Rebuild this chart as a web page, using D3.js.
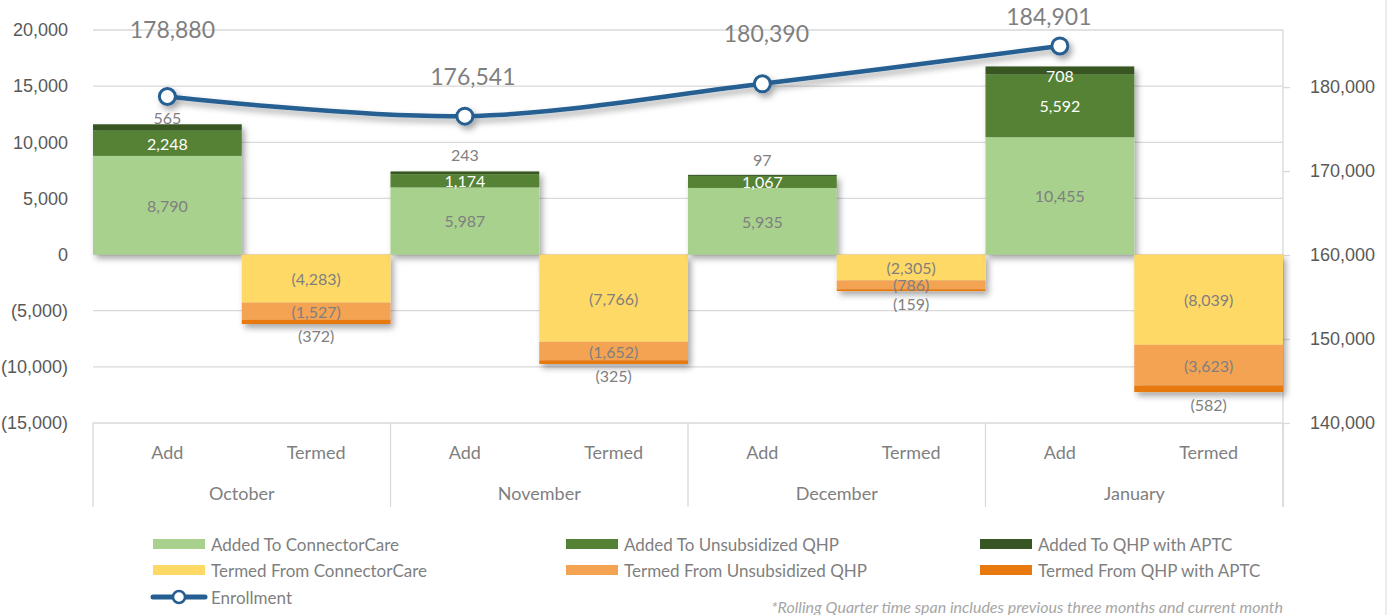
<!DOCTYPE html>
<html>
<head>
<meta charset="utf-8">
<script src="https://cdn.jsdelivr.net/npm/d3@7"></script>
<style>
	body { margin: 0; background: #ffffff; }
	svg { display: block; font-family: Lato, "Open Sans", sans-serif; }
</style>
</head>
<body>
<svg id="chart" width="1388" height="615"></svg>
<script>
/* CHART DATA */
var month_Names = ["October", "November", "December", "January"];
var sub_Names = ["Add", "Termed"];

var added_ConnectorCare = [8790, 5987, 5935, 10455];
var added_Unsubsidized = [2248, 1174, 1067, 5592];
var added_APTC = [565, 243, 97, 708];

var termed_ConnectorCare = [-4283, -7766, -2305, -8039];
var termed_Unsubsidized = [-1527, -1652, -786, -3623];
var termed_APTC = [-372, -325, -159, -582];

var enrollment = [178880, 176541, 180390, 184901];

var left_Ticks = [-15000, -10000, -5000, 0, 5000, 10000, 15000, 20000];
var right_Ticks = [140000, 150000, 160000, 170000, 180000];

/* LAYOUT AND STYLE */
var plot = { left: 93, right: 1283, top: 30, bottom: 423, axis_Bottom: 507 };

var series_Info = [
	{ key: "addedCC",  name: "Added To ConnectorCare",    colour: "#A9D18E", label: "#7F7F7F" },
	{ key: "addedUn",  name: "Added To Unsubsidized QHP", colour: "#548235", label: "#FFFFFF" },
	{ key: "addedAP",  name: "Added To QHP with APTC",    colour: "#375623", label: "#FFFFFF" },
	{ key: "termCC",   name: "Termed From ConnectorCare", colour: "#FFD966", label: "#7F7F7F" },
	{ key: "termUn",   name: "Termed From Unsubsidized QHP", colour: "#F4A352", label: "#7F7F7F" },
	{ key: "termAP",   name: "Termed From QHP with APTC", colour: "#E8790F", label: "#7F7F7F" }
];
var line_Colour = "#255E91";

/* small aptc labels: Excel moved some of them above the bar */
var aptc_Label_Place = ["above", "above", "above", "center"];
var aptc_Label_Nudge = [-10, -18, -16, 5];
/* nudges for the enrollment labels, as placed in the original */
var enroll_Label_Nudge = [[5, -68], [8, -40], [4, -51], [-11, -30]];

/* build one row per sub category */
var rows = [];
month_Names.forEach(function(month, i){
	rows.push({ id: month + "|Add", month: i, sub: "Add",
		addedCC: added_ConnectorCare[i], addedUn: added_Unsubsidized[i], addedAP: added_APTC[i],
		termCC: 0, termUn: 0, termAP: 0 });
	rows.push({ id: month + "|Termed", month: i, sub: "Termed",
		addedCC: 0, addedUn: 0, addedAP: 0,
		termCC: termed_ConnectorCare[i], termUn: termed_Unsubsidized[i], termAP: termed_APTC[i] });
});

var svg = d3.select("#chart");

var defs = svg.append("defs");
var shadow = defs.append("filter").attr("id", "shadow")
	.attr("x", "-10%").attr("y", "-10%").attr("width", "130%").attr("height", "140%");
shadow.append("feDropShadow")
	.attr("dx", 3).attr("dy", 4).attr("stdDeviation", 3)
	.attr("flood-color", "#000").attr("flood-opacity", 0.35);

var x = d3.scaleBand().domain(rows.map(function(d){ return d.id; }))
	.range([plot.left, plot.right]).padding(0);

var month_X = d3.scaleBand().domain(month_Names).range([plot.left, plot.right]).padding(0);

var y = d3.scaleLinear().domain([-15000, 20000]).range([plot.bottom, plot.top]);
var y_Right = d3.scaleLinear().domain([140000, 186800]).range([plot.bottom, plot.top]);

var fmt = d3.format(",");
function label_Text(v){ return v < 0 ? "(" + fmt(-v) + ")" : fmt(v); }

/* gridlines */
svg.append("g").selectAll("line").data(left_Ticks).join("line")
	.attr("x1", plot.left).attr("x2", plot.right)
	.attr("y1", function(d){ return y(d); }).attr("y2", function(d){ return y(d); })
	.attr("stroke", "#D9D9D9").attr("stroke-width", 1.3);

/* left axis */
var left_Axis = svg.append("g").attr("transform", "translate(" + plot.left + ",0)")
	.call(d3.axisLeft(y).tickValues(left_Ticks).tickSize(0).tickPadding(25).tickFormat(label_Text));
left_Axis.select(".domain").remove();
left_Axis.selectAll("text").attr("fill", "#595959").style("font-size", "18px");

/* right axis */
var right_Axis = svg.append("g").attr("transform", "translate(" + plot.right + ",0)")
	.call(d3.axisRight(y_Right).tickValues(right_Ticks).tickSize(7).tickPadding(20).tickFormat(fmt));
right_Axis.select(".domain").remove();
right_Axis.selectAll("line").attr("stroke", "#D9D9D9").attr("stroke-width", 1.3);
right_Axis.selectAll("text").attr("fill", "#595959").style("font-size", "18px");

svg.append("line")
	.attr("x1", plot.right).attr("x2", plot.right)
	.attr("y1", plot.top).attr("y2", plot.axis_Bottom)
	.attr("stroke", "#D9D9D9").attr("stroke-width", 1.3);

/* multi level category axis */
var cat_Axis = svg.append("g");
cat_Axis.selectAll("line.div").data(month_Names.concat(["end"])).join("line")
	.attr("class", "div")
	.attr("x1", function(d, i){ return plot.left + i * month_X.bandwidth(); })
	.attr("x2", function(d, i){ return plot.left + i * month_X.bandwidth(); })
	.attr("y1", plot.bottom).attr("y2", plot.axis_Bottom)
	.attr("stroke", "#D9D9D9").attr("stroke-width", 1.3);

cat_Axis.selectAll("text.sub").data(rows).join("text")
	.attr("class", "sub")
	.attr("x", function(d){ return x(d.id) + x.bandwidth() / 2; })
	.attr("y", 452).attr("dominant-baseline", "central")
	.attr("text-anchor", "middle").attr("fill", "#7F7F7F").style("font-size", "18px")
	.text(function(d){ return d.sub; });

cat_Axis.selectAll("text.month").data(month_Names).join("text")
	.attr("class", "month")
	.attr("x", function(d){ return month_X(d) + month_X.bandwidth() / 2; })
	.attr("y", 493).attr("dominant-baseline", "central")
	.attr("text-anchor", "middle").attr("fill", "#7F7F7F").style("font-size", "18px")
	.text(function(d){ return d; });

/* stacked bars */
var stack = d3.stack().keys(series_Info.map(function(s){ return s.key; }))
	.offset(d3.stackOffsetDiverging);
var stacked = stack(rows);

var bar_Groups = svg.append("g").selectAll("g").data(rows).join("g")
	.attr("filter", "url(#shadow)");

bar_Groups.each(function(row, r){
	var group = d3.select(this);
	stacked.forEach(function(layer, k){
		var seg = layer[r];
		if(seg[1] - seg[0] === 0) return;
		group.append("rect")
			.attr("x", x(row.id))
			.attr("width", x.bandwidth())
			.attr("y", y(Math.max(seg[0], seg[1])))
			.attr("height", Math.abs(y(seg[0]) - y(seg[1])))
			.attr("fill", series_Info[k].colour);
	});
});

/* bar labels */
var labels = svg.append("g").style("font-size", "16px").attr("text-anchor", "middle");
stacked.forEach(function(layer, k){
	layer.forEach(function(seg, r){
		var value = seg.data[series_Info[k].key];
		if(value === 0) return;
		var cx = x(seg.data.id) + x.bandwidth() / 2;
		var cy = (y(seg[0]) + y(seg[1])) / 2;
		var colour = series_Info[k].label;
		if(series_Info[k].key === "addedAP"){
			cy += aptc_Label_Nudge[seg.data.month];
			if(aptc_Label_Place[seg.data.month] === "above") colour = "#7F7F7F";
		}
		if(series_Info[k].key === "termAP"){
			cy = y(seg[0]) + 12;
		}
		labels.append("text")
			.attr("x", cx).attr("y", cy)
			.attr("dominant-baseline", "central")
			.attr("fill", colour)
			.text(label_Text(value));
	});
});

/* enrollment line */
var add_Rows = rows.filter(function(d){ return d.sub === "Add"; });
var points = add_Rows.map(function(d, i){
	return [x(d.id) + x.bandwidth() / 2, y_Right(enrollment[i])];
});

var line_Group = svg.append("g").attr("filter", "url(#shadow)");
line_Group.append("path")
	.attr("d", d3.line().curve(d3.curveCatmullRom.alpha(0.5))(points))
	.attr("fill", "none").attr("stroke", line_Colour)
	.attr("stroke-width", 4.5).attr("stroke-linecap", "round");
line_Group.selectAll("circle").data(points).join("circle")
	.attr("cx", function(d){ return d[0]; }).attr("cy", function(d){ return d[1]; })
	.attr("r", 8).attr("fill", "#FFFFFF")
	.attr("stroke", line_Colour).attr("stroke-width", 3);

svg.append("g").selectAll("text").data(enrollment).join("text")
	.attr("x", function(d, i){ return points[i][0] + enroll_Label_Nudge[i][0]; })
	.attr("y", function(d, i){ return points[i][1] + enroll_Label_Nudge[i][1]; })
	.attr("dominant-baseline", "central").attr("text-anchor", "middle")
	.attr("fill", "#7F7F7F").style("font-size", "23px")
	.text(function(d){ return fmt(d); });

/* legend */
var legend_Cols = [153, 566, 980];
var legend_Rows = [544, 570, 597];
var legend = svg.append("g").style("font-size", "17px");
series_Info.forEach(function(s, i){
	var lx = legend_Cols[i % 3], ly = legend_Rows[Math.floor(i / 3)];
	legend.append("rect").attr("x", lx).attr("y", ly - 5)
		.attr("width", 52).attr("height", 10).attr("fill", s.colour);
	legend.append("text").attr("x", lx + 58).attr("y", ly)
		.attr("dominant-baseline", "central").attr("fill", "#7F7F7F").text(s.name);
});
legend.append("line").attr("x1", 153).attr("x2", 205)
	.attr("y1", legend_Rows[2]).attr("y2", legend_Rows[2])
	.attr("stroke", line_Colour).attr("stroke-width", 5).attr("stroke-linecap", "round");
legend.append("circle").attr("cx", 179).attr("cy", legend_Rows[2]).attr("r", 6)
	.attr("fill", "#FFFFFF").attr("stroke", line_Colour).attr("stroke-width", 2.5);
legend.append("text").attr("x", 211).attr("y", legend_Rows[2])
	.attr("dominant-baseline", "central").attr("fill", "#7F7F7F").text("Enrollment");

/* footnote */
svg.append("text").attr("x", 1283).attr("y", 606)
	.attr("dominant-baseline", "central").attr("text-anchor", "end")
	.attr("fill", "#A6A6A6").style("font-size", "16px").style("font-style", "italic")
	.text("*Rolling Quarter time span includes previous three months and current month");

/* chart border on the right */
svg.append("line").attr("x1", 1386).attr("x2", 1386).attr("y1", 0).attr("y2", 615)
	.attr("stroke", "#D9D9D9").attr("stroke-width", 1);
</script>
</body>
</html>
